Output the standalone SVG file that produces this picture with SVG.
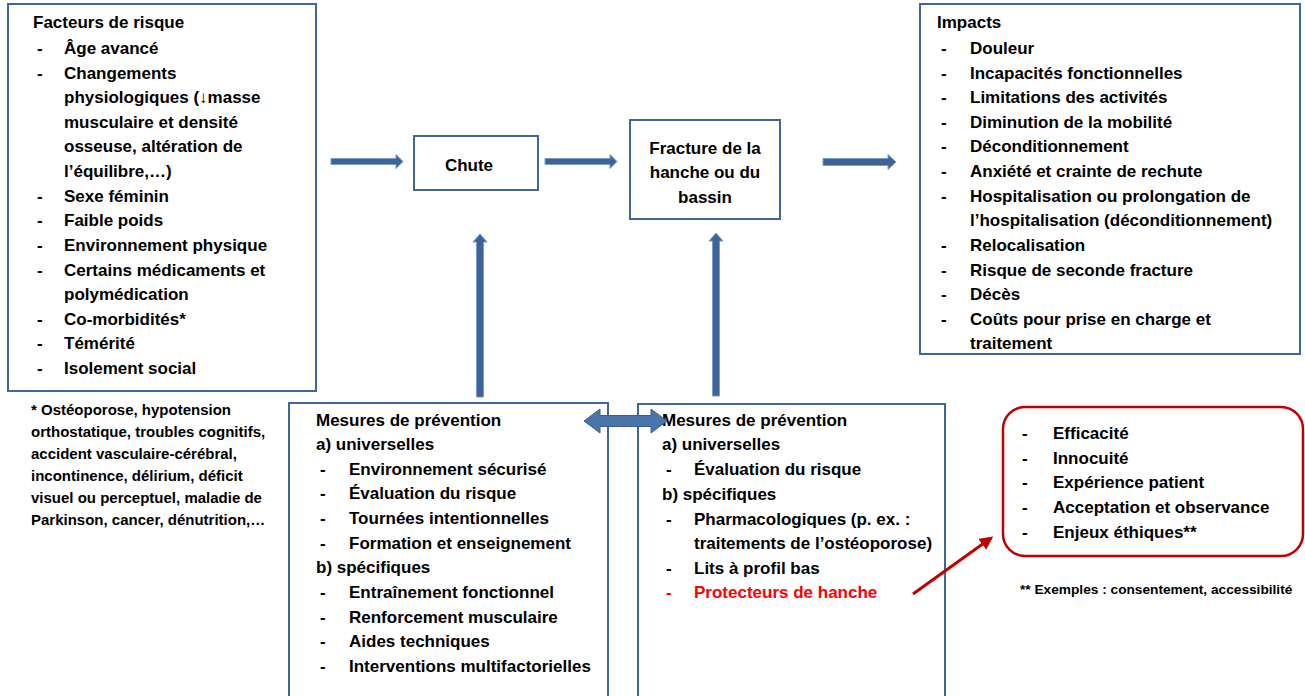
<svg xmlns="http://www.w3.org/2000/svg" width="1305" height="696" viewBox="0 0 1305 696">
<defs>
<style>
text{font-family:"Liberation Sans",Arial,sans-serif;font-weight:bold;font-size:17px;fill:#000}
.box{fill:#fff;stroke:#41669A;stroke-width:2}
.red{fill:#fff;stroke:#C00000;stroke-width:2.5}
.arr{fill:#3E6497;stroke:#7A9CC8;stroke-width:1}
.fn{font-size:15px}
.fn2{font-size:13.7px}
.rt{fill:#FF0000}
</style>
<marker id="rh" viewBox="0 0 10 10" refX="8" refY="5" markerWidth="4.5" markerHeight="4.5" orient="auto"><path d="M0,0 L10,5 L0,10 z" fill="#C00000"/></marker>
</defs>
<rect width="1305" height="696" fill="#fff"/>

<g id="facteurs">
<rect class="box" x="8" y="4" width="308" height="387"/>
<text x="33" y="28">Facteurs de risque</text>
<text x="37" y="54">-</text><text x="64" y="54">Âge avancé</text>
<text x="37" y="79">-</text><text x="64" y="79">Changements</text>
<text x="64" y="103">physiologiques (↓masse</text>
<text x="64" y="128">musculaire et densité</text>
<text x="64" y="152">osseuse, altération de</text>
<text x="64" y="177">l’équilibre,…)</text>
<text x="37" y="202">-</text><text x="64" y="202">Sexe féminin</text>
<text x="37" y="226">-</text><text x="64" y="226">Faible poids</text>
<text x="37" y="251">-</text><text x="64" y="251">Environnement physique</text>
<text x="37" y="276">-</text><text x="64" y="276">Certains médicaments et</text>
<text x="64" y="300">polymédication</text>
<text x="37" y="325">-</text><text x="64" y="325">Co-morbidités*</text>
<text x="37" y="349">-</text><text x="64" y="349">Témérité</text>
<text x="37" y="374">-</text><text x="64" y="374">Isolement social</text>
</g>

<g id="footnote1">
<text class="fn" x="31" y="415">* Ostéoporose, hypotension</text>
<text class="fn" x="31" y="437">orthostatique, troubles cognitifs,</text>
<text class="fn" x="31" y="459">accident vasculaire-cérébral,</text>
<text class="fn" x="31" y="481">incontinence, délirium, déficit</text>
<text class="fn" x="31" y="503">visuel ou perceptuel, maladie de</text>
<text class="fn" x="31" y="525">Parkinson, cancer, dénutrition,…</text>
</g>

<g id="chute">
<rect class="box" x="414" y="136" width="124" height="54"/>
<text x="469" y="171" text-anchor="middle">Chute</text>
</g>

<g id="fracture">
<rect class="box" x="630" y="120" width="150" height="99"/>
<text x="705" y="154" text-anchor="middle">Fracture de la</text>
<text x="705" y="178" text-anchor="middle">hanche ou du</text>
<text x="705" y="203" text-anchor="middle">bassin</text>
</g>

<g id="impacts">
<rect class="box" x="920" y="4" width="380" height="350"/>
<text x="937" y="28">Impacts</text>
<text x="941" y="54">-</text><text x="970" y="54">Douleur</text>
<text x="941" y="79">-</text><text x="970" y="79">Incapacités fonctionnelles</text>
<text x="941" y="103">-</text><text x="970" y="103">Limitations des activités</text>
<text x="941" y="128">-</text><text x="970" y="128">Diminution de la mobilité</text>
<text x="941" y="152">-</text><text x="970" y="152">Déconditionnement</text>
<text x="941" y="177">-</text><text x="970" y="177">Anxiété et crainte de rechute</text>
<text x="941" y="202">-</text><text x="970" y="202">Hospitalisation ou prolongation de</text>
<text x="970" y="226">l’hospitalisation (déconditionnement)</text>
<text x="941" y="251">-</text><text x="970" y="251">Relocalisation</text>
<text x="941" y="276">-</text><text x="970" y="276">Risque de seconde fracture</text>
<text x="941" y="300">-</text><text x="970" y="300">Décès</text>
<text x="941" y="325">-</text><text x="970" y="325">Coûts pour prise en charge et</text>
<text x="970" y="349">traitement</text>
</g>

<g id="mesures-gauche">
<rect class="box" x="289" y="403" width="319" height="300"/>
<text x="316" y="426">Mesures de prévention</text>
<text x="316" y="450">a) universelles</text>
<text x="320" y="475">-</text><text x="349" y="475">Environnement sécurisé</text>
<text x="320" y="499">-</text><text x="349" y="499">Évaluation du risque</text>
<text x="320" y="524">-</text><text x="349" y="524">Tournées intentionnelles</text>
<text x="320" y="549">-</text><text x="349" y="549">Formation et enseignement</text>
<text x="316" y="573">b) spécifiques</text>
<text x="320" y="598">-</text><text x="349" y="598">Entraînement fonctionnel</text>
<text x="320" y="623">-</text><text x="349" y="623">Renforcement musculaire</text>
<text x="320" y="647">-</text><text x="349" y="647">Aides techniques</text>
<text x="320" y="672">-</text><text x="349" y="672">Interventions multifactorielles</text>
</g>

<g id="mesures-droite">
<rect class="box" x="638" y="404" width="307" height="300"/>
<text x="662" y="426">Mesures de prévention</text>
<text x="662" y="450">a) universelles</text>
<text x="666" y="475">-</text><text x="694" y="475">Évaluation du risque</text>
<text x="662" y="500">b) spécifiques</text>
<text x="666" y="525">-</text><text x="694" y="525">Pharmacologiques (p. ex. :</text>
<text x="694" y="549">traitements de l’ostéoporose)</text>
<text x="666" y="574">-</text><text x="694" y="574">Lits à profil bas</text>
<text class="rt" x="666" y="598">-</text><text class="rt" x="694" y="598">Protecteurs de hanche</text>
</g>

<g id="criteres">
<rect class="red" x="1003" y="407" width="300" height="149" rx="22" ry="22"/>
<text x="1022" y="439">-</text><text x="1053" y="439">Efficacité</text>
<text x="1022" y="464">-</text><text x="1053" y="464">Innocuité</text>
<text x="1022" y="488">-</text><text x="1053" y="488">Expérience patient</text>
<text x="1022" y="513">-</text><text x="1053" y="513">Acceptation et observance</text>
<text x="1022" y="538">-</text><text x="1053" y="538">Enjeux éthiques**</text>
</g>

<g id="footnote2">
<text class="fn2" x="1020" y="594">** Exemples : consentement, accessibilité</text>
</g>

<g id="connectors">
<path class="arr" d="M331,158.5 H396 V154.5 L403,161.5 L396,168.5 V164.5 H331 Z"/>
<path class="arr" d="M545,158.5 H610 V154.5 L617,161.5 L610,168.5 V164.5 H545 Z"/>
<path class="arr" d="M823,158.5 H888 V154.5 L896,162 L888,169.5 V165.5 H823 Z"/>
<path class="arr" d="M476.5,397 V242 H473 L480,234 L487,242 H483.5 V397 Z"/>
<path class="arr" d="M712.5,396 V241 H709 L716,233 L723,241 H719.5 V396 Z"/>
<path d="M584,421 L600,409 V415.5 H651 V409 L667,421 L651,433 V426.5 H600 V433 Z" fill="#4A74AA" stroke="#3A5E8E" stroke-width="1"/>
<line x1="913" y1="594" x2="991" y2="538" stroke="#C00000" stroke-width="3" marker-end="url(#rh)"/>
</g>
</svg>
